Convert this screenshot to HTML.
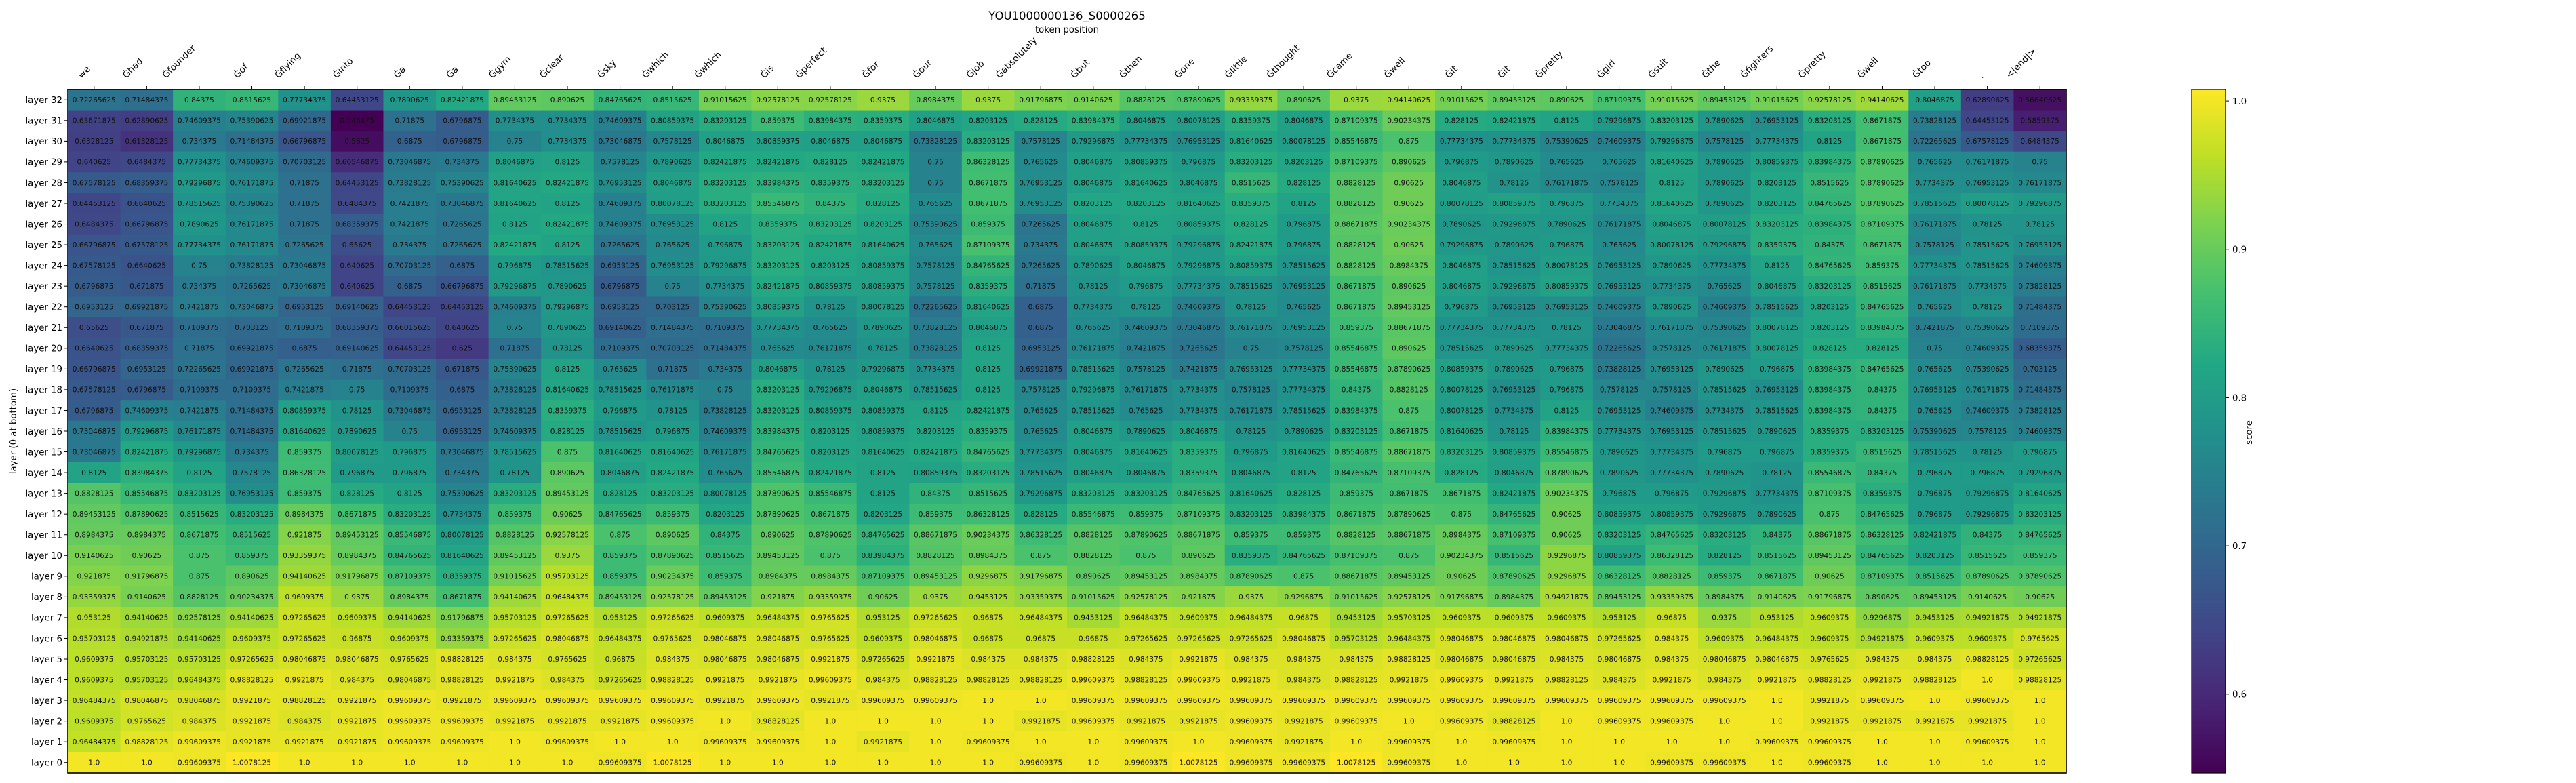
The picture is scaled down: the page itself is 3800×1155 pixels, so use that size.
<!DOCTYPE html>
<html><head><meta charset="utf-8"><title>YOU1000000136_S0000265</title>
<style>
html,body{margin:0;padding:0;background:#fff;}
svg{display:block;font-family:"DejaVu Sans","Liberation Sans",sans-serif;}
</style></head>
<body>
<svg id="chart" width="3800" height="1155" viewBox="0 0 3800 1155" xmlns="http://www.w3.org/2000/svg">
<defs><linearGradient id="cbgrad" x1="0" y1="1" x2="0" y2="0"></linearGradient></defs>
<text x="1574" y="29" font-size="16.5" text-anchor="middle" fill="#000">YOU1000000136_S0000265</text>
<text x="1574" y="48" font-size="13.3" text-anchor="middle" fill="#000">token position</text>
<text x="0" y="0" font-size="13.3" text-anchor="middle" fill="#000" transform="translate(24,636) rotate(-90)">layer (0 at bottom)</text>
<g id="cells"></g>
<g id="xticks"></g>
<g id="yticks"></g>
<rect x="100" y="132" width="2948" height="1008" fill="none" stroke="#000" stroke-width="1.6"/>
<g id="colorbar"></g>
<text x="0" y="0" font-size="13.3" text-anchor="middle" fill="#000" transform="translate(3322,638) rotate(-90)">score</text>
</svg>
<script>
const tokens = ["we","Ġhad","Ġfounder","Ġof","Ġflying","Ġinto","Ġa","Ġa","Ġgym","Ġclear","Ġsky","Ġwhich","Ġwhich","Ġis","Ġperfect","Ġfor","Ġour","Ġjob","Ġabsolutely","Ġbut","Ġthen","Ġone","Ġlittle","Ġthought","Ġcame","Ġwell","Ġit","Ġit","Ġpretty","Ġgirl","Ġsuit","Ġthe","Ġfighters","Ġpretty","Ġwell","Ġtoo",".","<|end|>"];
const layerLabels = ["layer 32","layer 31","layer 30","layer 29","layer 28","layer 27","layer 26","layer 25","layer 24","layer 23","layer 22","layer 21","layer 20","layer 19","layer 18","layer 17","layer 16","layer 15","layer 14","layer 13","layer 12","layer 11","layer 10","layer 9","layer 8","layer 7","layer 6","layer 5","layer 4","layer 3","layer 2","layer 1","layer 0"];
const colorbarTicks = [0.6,0.7,0.8,0.9,1.0];
const vmin = 0.546875;
const vmax = 1.0078125;
const L32 = [0.72265625,0.71484375,0.84375,0.8515625,0.77734375,0.64453125,0.7890625,0.82421875,0.89453125,0.890625,0.84765625,0.8515625,0.91015625,0.92578125,0.92578125,0.9375,0.8984375,0.9375,0.91796875,0.9140625,0.8828125,0.87890625,0.93359375,0.890625,0.9375,0.94140625,0.91015625,0.89453125,0.890625,0.87109375,0.91015625,0.89453125,0.91015625,0.92578125,0.94140625,0.8046875,0.62890625,0.56640625];
const L31 = [0.63671875,0.62890625,0.74609375,0.75390625,0.69921875,0.546875,0.71875,0.6796875,0.7734375,0.7734375,0.74609375,0.80859375,0.83203125,0.859375,0.83984375,0.8359375,0.8046875,0.8203125,0.828125,0.83984375,0.8046875,0.80078125,0.8359375,0.8046875,0.87109375,0.90234375,0.828125,0.82421875,0.8125,0.79296875,0.83203125,0.7890625,0.76953125,0.83203125,0.8671875,0.73828125,0.64453125,0.5859375];
const L30 = [0.6328125,0.61328125,0.734375,0.71484375,0.66796875,0.5625,0.6875,0.6796875,0.75,0.7734375,0.73046875,0.7578125,0.8046875,0.80859375,0.8046875,0.8046875,0.73828125,0.83203125,0.7578125,0.79296875,0.77734375,0.76953125,0.81640625,0.80078125,0.85546875,0.875,0.77734375,0.77734375,0.75390625,0.74609375,0.79296875,0.7578125,0.77734375,0.8125,0.8671875,0.72265625,0.67578125,0.6484375];
const L29 = [0.640625,0.6484375,0.77734375,0.74609375,0.70703125,0.60546875,0.73046875,0.734375,0.8046875,0.8125,0.7578125,0.7890625,0.82421875,0.82421875,0.828125,0.82421875,0.75,0.86328125,0.765625,0.8046875,0.80859375,0.796875,0.83203125,0.8203125,0.87109375,0.890625,0.796875,0.7890625,0.765625,0.765625,0.81640625,0.7890625,0.80859375,0.83984375,0.87890625,0.765625,0.76171875,0.75];
const L28 = [0.67578125,0.68359375,0.79296875,0.76171875,0.71875,0.64453125,0.73828125,0.75390625,0.81640625,0.82421875,0.76953125,0.8046875,0.83203125,0.83984375,0.8359375,0.83203125,0.75,0.8671875,0.76953125,0.8046875,0.81640625,0.8046875,0.8515625,0.828125,0.8828125,0.90625,0.8046875,0.78125,0.76171875,0.7578125,0.8125,0.7890625,0.8203125,0.8515625,0.87890625,0.7734375,0.76953125,0.76171875];
const L27 = [0.64453125,0.6640625,0.78515625,0.75390625,0.71875,0.6484375,0.7421875,0.73046875,0.81640625,0.8125,0.74609375,0.80078125,0.83203125,0.85546875,0.84375,0.828125,0.765625,0.8671875,0.76953125,0.8203125,0.8203125,0.81640625,0.8359375,0.8125,0.8828125,0.90625,0.80078125,0.80859375,0.796875,0.7734375,0.81640625,0.7890625,0.8203125,0.84765625,0.87890625,0.78515625,0.80078125,0.79296875];
const L26 = [0.6484375,0.66796875,0.7890625,0.76171875,0.71875,0.68359375,0.7421875,0.7265625,0.8125,0.82421875,0.74609375,0.76953125,0.8125,0.8359375,0.83203125,0.8203125,0.75390625,0.859375,0.7265625,0.8046875,0.8125,0.80859375,0.828125,0.796875,0.88671875,0.90234375,0.7890625,0.79296875,0.7890625,0.76171875,0.8046875,0.80078125,0.83203125,0.83984375,0.87109375,0.76171875,0.78125,0.78125];
const L25 = [0.66796875,0.67578125,0.77734375,0.76171875,0.7265625,0.65625,0.734375,0.7265625,0.82421875,0.8125,0.7265625,0.765625,0.796875,0.83203125,0.82421875,0.81640625,0.765625,0.87109375,0.734375,0.8046875,0.80859375,0.79296875,0.82421875,0.796875,0.8828125,0.90625,0.79296875,0.7890625,0.796875,0.765625,0.80078125,0.79296875,0.8359375,0.84375,0.8671875,0.7578125,0.78515625,0.76953125];
const L24 = [0.67578125,0.6640625,0.75,0.73828125,0.73046875,0.640625,0.70703125,0.6875,0.796875,0.78515625,0.6953125,0.76953125,0.79296875,0.83203125,0.8203125,0.80859375,0.7578125,0.84765625,0.7265625,0.7890625,0.8046875,0.79296875,0.80859375,0.78515625,0.8828125,0.8984375,0.8046875,0.78515625,0.80078125,0.76953125,0.7890625,0.77734375,0.8125,0.84765625,0.859375,0.77734375,0.78515625,0.74609375];
const L23 = [0.6796875,0.671875,0.734375,0.7265625,0.73046875,0.640625,0.6875,0.66796875,0.79296875,0.7890625,0.6796875,0.75,0.7734375,0.82421875,0.80859375,0.80859375,0.7578125,0.8359375,0.71875,0.78125,0.796875,0.77734375,0.78515625,0.76953125,0.8671875,0.890625,0.8046875,0.79296875,0.80859375,0.76953125,0.7734375,0.765625,0.8046875,0.83203125,0.8515625,0.76171875,0.7734375,0.73828125];
const L22 = [0.6953125,0.69921875,0.7421875,0.73046875,0.6953125,0.69140625,0.64453125,0.64453125,0.74609375,0.79296875,0.6953125,0.703125,0.75390625,0.80859375,0.78125,0.80078125,0.72265625,0.81640625,0.6875,0.7734375,0.78125,0.74609375,0.78125,0.765625,0.8671875,0.89453125,0.796875,0.76953125,0.76953125,0.74609375,0.7890625,0.74609375,0.78515625,0.8203125,0.84765625,0.765625,0.78125,0.71484375];
const L21 = [0.65625,0.671875,0.7109375,0.703125,0.7109375,0.68359375,0.66015625,0.640625,0.75,0.7890625,0.69140625,0.71484375,0.7109375,0.77734375,0.765625,0.7890625,0.73828125,0.8046875,0.6875,0.765625,0.74609375,0.73046875,0.76171875,0.76953125,0.859375,0.88671875,0.77734375,0.77734375,0.78125,0.73046875,0.76171875,0.75390625,0.80078125,0.8203125,0.83984375,0.7421875,0.75390625,0.7109375];
const L20 = [0.6640625,0.68359375,0.71875,0.69921875,0.6875,0.69140625,0.64453125,0.625,0.71875,0.78125,0.7109375,0.70703125,0.71484375,0.765625,0.76171875,0.78125,0.73828125,0.8125,0.6953125,0.76171875,0.7421875,0.7265625,0.75,0.7578125,0.85546875,0.890625,0.78515625,0.7890625,0.77734375,0.72265625,0.7578125,0.76171875,0.80078125,0.828125,0.828125,0.75,0.74609375,0.68359375];
const L19 = [0.66796875,0.6953125,0.72265625,0.69921875,0.7265625,0.71875,0.70703125,0.671875,0.75390625,0.8125,0.765625,0.71875,0.734375,0.8046875,0.78125,0.79296875,0.7734375,0.8125,0.69921875,0.78515625,0.7578125,0.7421875,0.76953125,0.77734375,0.85546875,0.87890625,0.80859375,0.7890625,0.796875,0.73828125,0.76953125,0.7890625,0.796875,0.83984375,0.84765625,0.765625,0.75390625,0.703125];
const L18 = [0.67578125,0.6796875,0.7109375,0.7109375,0.7421875,0.75,0.7109375,0.6875,0.73828125,0.81640625,0.78515625,0.76171875,0.75,0.83203125,0.79296875,0.8046875,0.78515625,0.8125,0.7578125,0.79296875,0.76171875,0.7734375,0.7578125,0.77734375,0.84375,0.8828125,0.80078125,0.76953125,0.796875,0.7578125,0.7578125,0.78515625,0.76953125,0.83984375,0.84375,0.76953125,0.76171875,0.71484375];
const L17 = [0.6796875,0.74609375,0.7421875,0.71484375,0.80859375,0.78125,0.73046875,0.6953125,0.73828125,0.8359375,0.796875,0.78125,0.73828125,0.83203125,0.80859375,0.80859375,0.8125,0.82421875,0.765625,0.78515625,0.765625,0.7734375,0.76171875,0.78515625,0.83984375,0.875,0.80078125,0.7734375,0.8125,0.76953125,0.74609375,0.7734375,0.78515625,0.83984375,0.84375,0.765625,0.74609375,0.73828125];
const L16 = [0.73046875,0.79296875,0.76171875,0.71484375,0.81640625,0.7890625,0.75,0.6953125,0.74609375,0.828125,0.78515625,0.796875,0.74609375,0.83984375,0.8203125,0.80859375,0.8203125,0.8359375,0.765625,0.8046875,0.7890625,0.8046875,0.78125,0.7890625,0.83203125,0.8671875,0.81640625,0.78125,0.83984375,0.77734375,0.76953125,0.78515625,0.7890625,0.8359375,0.83203125,0.75390625,0.7578125,0.74609375];
const L15 = [0.73046875,0.82421875,0.79296875,0.734375,0.859375,0.80078125,0.796875,0.73046875,0.78515625,0.875,0.81640625,0.81640625,0.76171875,0.84765625,0.8203125,0.81640625,0.82421875,0.84765625,0.77734375,0.8046875,0.81640625,0.8359375,0.796875,0.81640625,0.85546875,0.88671875,0.83203125,0.80859375,0.85546875,0.7890625,0.77734375,0.796875,0.796875,0.8359375,0.8515625,0.78515625,0.78125,0.796875];
const L14 = [0.8125,0.83984375,0.8125,0.7578125,0.86328125,0.796875,0.796875,0.734375,0.78125,0.890625,0.8046875,0.82421875,0.765625,0.85546875,0.82421875,0.8125,0.80859375,0.83203125,0.78515625,0.8046875,0.8046875,0.8359375,0.8046875,0.8125,0.84765625,0.87109375,0.828125,0.8046875,0.87890625,0.7890625,0.77734375,0.7890625,0.78125,0.85546875,0.84375,0.796875,0.796875,0.79296875];
const L13 = [0.8828125,0.85546875,0.83203125,0.76953125,0.859375,0.828125,0.8125,0.75390625,0.83203125,0.89453125,0.828125,0.83203125,0.80078125,0.87890625,0.85546875,0.8125,0.84375,0.8515625,0.79296875,0.83203125,0.83203125,0.84765625,0.81640625,0.828125,0.859375,0.8671875,0.8671875,0.82421875,0.90234375,0.796875,0.796875,0.79296875,0.77734375,0.87109375,0.8359375,0.796875,0.79296875,0.81640625];
const L12 = [0.89453125,0.87890625,0.8515625,0.83203125,0.8984375,0.8671875,0.83203125,0.7734375,0.859375,0.90625,0.84765625,0.859375,0.8203125,0.87890625,0.8671875,0.8203125,0.859375,0.86328125,0.828125,0.85546875,0.859375,0.87109375,0.83203125,0.83984375,0.8671875,0.87890625,0.875,0.84765625,0.90625,0.80859375,0.80859375,0.79296875,0.7890625,0.875,0.84765625,0.796875,0.79296875,0.83203125];
const L11 = [0.8984375,0.8984375,0.8671875,0.8515625,0.921875,0.89453125,0.85546875,0.80078125,0.8828125,0.92578125,0.875,0.890625,0.84375,0.890625,0.87890625,0.84765625,0.88671875,0.90234375,0.86328125,0.8828125,0.87890625,0.88671875,0.859375,0.859375,0.8828125,0.88671875,0.8984375,0.87109375,0.90625,0.83203125,0.84765625,0.83203125,0.84375,0.88671875,0.86328125,0.82421875,0.84375,0.84765625];
const L10 = [0.9140625,0.90625,0.875,0.859375,0.93359375,0.8984375,0.84765625,0.81640625,0.89453125,0.9375,0.859375,0.87890625,0.8515625,0.89453125,0.875,0.83984375,0.8828125,0.8984375,0.875,0.8828125,0.875,0.890625,0.8359375,0.84765625,0.87109375,0.875,0.90234375,0.8515625,0.9296875,0.80859375,0.86328125,0.828125,0.8515625,0.89453125,0.84765625,0.8203125,0.8515625,0.859375];
const L9 = [0.921875,0.91796875,0.875,0.890625,0.94140625,0.91796875,0.87109375,0.8359375,0.91015625,0.95703125,0.859375,0.90234375,0.859375,0.8984375,0.8984375,0.87109375,0.89453125,0.9296875,0.91796875,0.890625,0.89453125,0.8984375,0.87890625,0.875,0.88671875,0.89453125,0.90625,0.87890625,0.9296875,0.86328125,0.8828125,0.859375,0.8671875,0.90625,0.87109375,0.8515625,0.87890625,0.87890625];
const L8 = [0.93359375,0.9140625,0.8828125,0.90234375,0.9609375,0.9375,0.8984375,0.8671875,0.94140625,0.96484375,0.89453125,0.92578125,0.89453125,0.921875,0.93359375,0.90625,0.9375,0.9453125,0.93359375,0.91015625,0.92578125,0.921875,0.9375,0.9296875,0.91015625,0.92578125,0.91796875,0.8984375,0.94921875,0.89453125,0.93359375,0.8984375,0.9140625,0.91796875,0.890625,0.89453125,0.9140625,0.90625];
const L7 = [0.953125,0.94140625,0.92578125,0.94140625,0.97265625,0.9609375,0.94140625,0.91796875,0.95703125,0.97265625,0.953125,0.97265625,0.9609375,0.96484375,0.9765625,0.953125,0.97265625,0.96875,0.96484375,0.9453125,0.96484375,0.9609375,0.96484375,0.96875,0.9453125,0.95703125,0.9609375,0.9609375,0.9609375,0.953125,0.96875,0.9375,0.953125,0.9609375,0.9296875,0.9453125,0.94921875,0.94921875];
const L6 = [0.95703125,0.94921875,0.94140625,0.9609375,0.97265625,0.96875,0.9609375,0.93359375,0.97265625,0.98046875,0.96484375,0.9765625,0.98046875,0.98046875,0.9765625,0.9609375,0.98046875,0.96875,0.96875,0.96875,0.97265625,0.97265625,0.97265625,0.98046875,0.95703125,0.96484375,0.98046875,0.98046875,0.98046875,0.97265625,0.984375,0.9609375,0.96484375,0.9609375,0.94921875,0.9609375,0.9609375,0.9765625];
const L5 = [0.9609375,0.95703125,0.95703125,0.97265625,0.98046875,0.98046875,0.9765625,0.98828125,0.984375,0.9765625,0.96875,0.984375,0.98046875,0.98046875,0.9921875,0.97265625,0.9921875,0.984375,0.984375,0.98828125,0.984375,0.9921875,0.984375,0.984375,0.984375,0.98828125,0.98046875,0.98046875,0.984375,0.98046875,0.984375,0.98046875,0.98046875,0.9765625,0.984375,0.984375,0.98828125,0.97265625];
const L4 = [0.9609375,0.95703125,0.96484375,0.98828125,0.9921875,0.984375,0.98046875,0.98828125,0.9921875,0.984375,0.97265625,0.98828125,0.9921875,0.9921875,0.99609375,0.984375,0.98828125,0.98828125,0.98828125,0.99609375,0.98828125,0.99609375,0.9921875,0.984375,0.98828125,0.9921875,0.99609375,0.9921875,0.98828125,0.984375,0.9921875,0.984375,0.9921875,0.98828125,0.9921875,0.98828125,1.0,0.98828125];
const L3 = [0.96484375,0.98046875,0.98046875,0.9921875,0.98828125,0.9921875,0.99609375,0.9921875,0.99609375,0.99609375,0.99609375,0.99609375,0.9921875,0.99609375,0.9921875,0.99609375,0.99609375,1.0,1.0,0.99609375,0.99609375,0.99609375,0.99609375,0.99609375,0.99609375,0.99609375,0.99609375,0.99609375,0.99609375,0.99609375,0.99609375,0.99609375,1.0,0.9921875,0.99609375,1.0,0.99609375,1.0];
const L2 = [0.9609375,0.9765625,0.984375,0.9921875,0.984375,0.9921875,0.99609375,0.99609375,0.9921875,0.9921875,0.9921875,0.99609375,1.0,0.98828125,1.0,1.0,1.0,1.0,0.9921875,0.99609375,0.9921875,0.9921875,0.99609375,0.9921875,0.99609375,1.0,0.99609375,0.98828125,1.0,0.99609375,0.99609375,1.0,1.0,0.9921875,0.9921875,0.9921875,0.9921875,1.0];
const L1 = [0.96484375,0.98828125,0.99609375,0.9921875,0.9921875,0.9921875,0.99609375,0.99609375,1.0,0.99609375,1.0,1.0,0.99609375,0.99609375,1.0,0.9921875,1.0,0.99609375,1.0,1.0,0.99609375,1.0,0.99609375,0.9921875,1.0,0.99609375,1.0,0.99609375,1.0,1.0,1.0,1.0,0.99609375,0.99609375,1.0,1.0,0.99609375,1.0];
const L0 = [1.0,1.0,0.99609375,1.0078125,1.0,1.0,1.0,1.0,1.0,1.0,0.99609375,1.0078125,1.0,1.0,1.0,1.0,1.0,1.0,0.99609375,1.0,0.99609375,1.0078125,0.99609375,0.99609375,1.0078125,0.99609375,1.0,1.0,1.0,1.0,0.99609375,0.99609375,1.0,0.99609375,1.0,1.0,1.0,1.0];
const scoreRows = [L32,L31,L30,L29,L28,L27,L26,L25,L24,L23,L22,L21,L20,L19,L18,L17,L16,L15,L14,L13,L12,L11,L10,L9,L8,L7,L6,L5,L4,L3,L2,L1,L0];

(function(){
const NS = "http://www.w3.org/2000/svg";
const X0 = 100, X1 = 3048, Y0 = 132, Y1 = 1140;
const cw = (X1 - X0) / tokens.length;
const rh = (Y1 - Y0) / layerLabels.length;
const xPos = i => X0 + i * cw;
const yPos = r => Y0 + r * rh;
const VIR = ["#440154","#482475","#414487","#355f8d","#2a788e","#21918c","#22a884","#44bf70","#7ad151","#bddf26","#fde725"];
function hex(h){return [parseInt(h.substr(1,2),16),parseInt(h.substr(3,2),16),parseInt(h.substr(5,2),16)];}
const VRGB = VIR.map(hex);
function viridis(t){
  t = Math.max(0, Math.min(1, t));
  const p = t * (VRGB.length - 1);
  const i = Math.min(Math.floor(p), VRGB.length - 2);
  const f = p - i;
  const a = VRGB[i], b = VRGB[i+1];
  return "rgb(" + [0,1,2].map(k => Math.round(a[k] + (b[k]-a[k]) * f)).join(",") + ")";
}
const norm = v => (v - vmin) / (vmax - vmin);
const fmt = v => Number.isInteger(v) ? v.toFixed(1) : String(v);

const cells = document.getElementById("cells");
scoreRows.forEach((row, r) => {
  row.forEach((v, c) => {
    const rect = document.createElementNS(NS, "rect");
    
    
    rect.setAttribute("x", xPos(c));
    rect.setAttribute("y", yPos(r));
    rect.setAttribute("width", cw + 0.6);
    rect.setAttribute("height", rh + 0.6);
    rect.setAttribute("fill", viridis(norm(v)));
    cells.appendChild(rect);
    const t = document.createElementNS(NS, "text");
    
    
    t.setAttribute("x", xPos(c) + cw / 2);
    t.setAttribute("y", yPos(r) + rh / 2 + 3.8);
    t.setAttribute("font-size", "10.6");
    t.setAttribute("text-anchor", "middle");
    t.setAttribute("fill", "#111");
    t.textContent = fmt(v);
    cells.appendChild(t);
  });
});

const xt = document.getElementById("xticks");
tokens.forEach((tok, i) => {
  const cx = xPos(i) + cw / 2;
  const ln = document.createElementNS(NS, "line");
  
  
  ln.setAttribute("x1", cx); ln.setAttribute("x2", cx);
  ln.setAttribute("y1", Y0); ln.setAttribute("y2", Y0 - 5);
  ln.setAttribute("stroke", "#000"); ln.setAttribute("stroke-width", "1");
  xt.appendChild(ln);
  const t = document.createElementNS(NS, "text");
  
  
  t.setAttribute("font-size", "13.3");
  t.setAttribute("fill", "#000");
  t.textContent = tok;
  xt.appendChild(t);
  const L = t.getComputedTextLength();
  const sx = cx - L * 0.7071 - 5;
  const sy = 116;
  t.setAttribute("x", 0); t.setAttribute("y", 0);
  t.setAttribute("transform", "translate(" + sx + "," + sy + ") rotate(-45)");
});

const yt = document.getElementById("yticks");
layerLabels.forEach((lab, r) => {
  const cy = yPos(r) + rh / 2;
  const ln = document.createElementNS(NS, "line");
  
  
  ln.setAttribute("x1", X0); ln.setAttribute("x2", X0 - 5);
  ln.setAttribute("y1", cy); ln.setAttribute("y2", cy);
  ln.setAttribute("stroke", "#000"); ln.setAttribute("stroke-width", "1");
  yt.appendChild(ln);
  const t = document.createElementNS(NS, "text");
  
  
  t.setAttribute("x", X0 - 8);
  t.setAttribute("y", cy + 4.8);
  t.setAttribute("font-size", "13.3");
  t.setAttribute("text-anchor", "end");
  t.setAttribute("fill", "#000");
  t.textContent = lab;
  yt.appendChild(t);
});

// colorbar
const CX0 = 3233, CX1 = 3283;
const grad = document.getElementById("cbgrad");
VIR.forEach((col, i) => {
  const s = document.createElementNS(NS, "stop");
  s.setAttribute("offset", (i / (VIR.length - 1)));
  s.setAttribute("stop-color", col);
  grad.appendChild(s);
});
const cb = document.getElementById("colorbar");
const cbr = document.createElementNS(NS, "rect");


cbr.setAttribute("x", CX0); cbr.setAttribute("y", Y0);
cbr.setAttribute("width", CX1 - CX0); cbr.setAttribute("height", Y1 - Y0);
cbr.setAttribute("fill", "url(#cbgrad)");
cbr.setAttribute("stroke", "#000"); cbr.setAttribute("stroke-width", "1.2");
cb.appendChild(cbr);
const cbY = v => Y1 - norm(v) * (Y1 - Y0);
colorbarTicks.forEach(v => {
  const y = cbY(v);
  const ln = document.createElementNS(NS, "line");
  
  
  ln.setAttribute("x1", CX1); ln.setAttribute("x2", CX1 + 5);
  ln.setAttribute("y1", y); ln.setAttribute("y2", y);
  ln.setAttribute("stroke", "#000"); ln.setAttribute("stroke-width", "1");
  cb.appendChild(ln);
  const t = document.createElementNS(NS, "text");
  
  
  t.setAttribute("x", CX1 + 10);
  t.setAttribute("y", y + 4.8);
  t.setAttribute("font-size", "13.3");
  t.setAttribute("fill", "#000");
  t.textContent = v.toFixed(1);
  cb.appendChild(t);
});
})();
</script>
</body></html>
